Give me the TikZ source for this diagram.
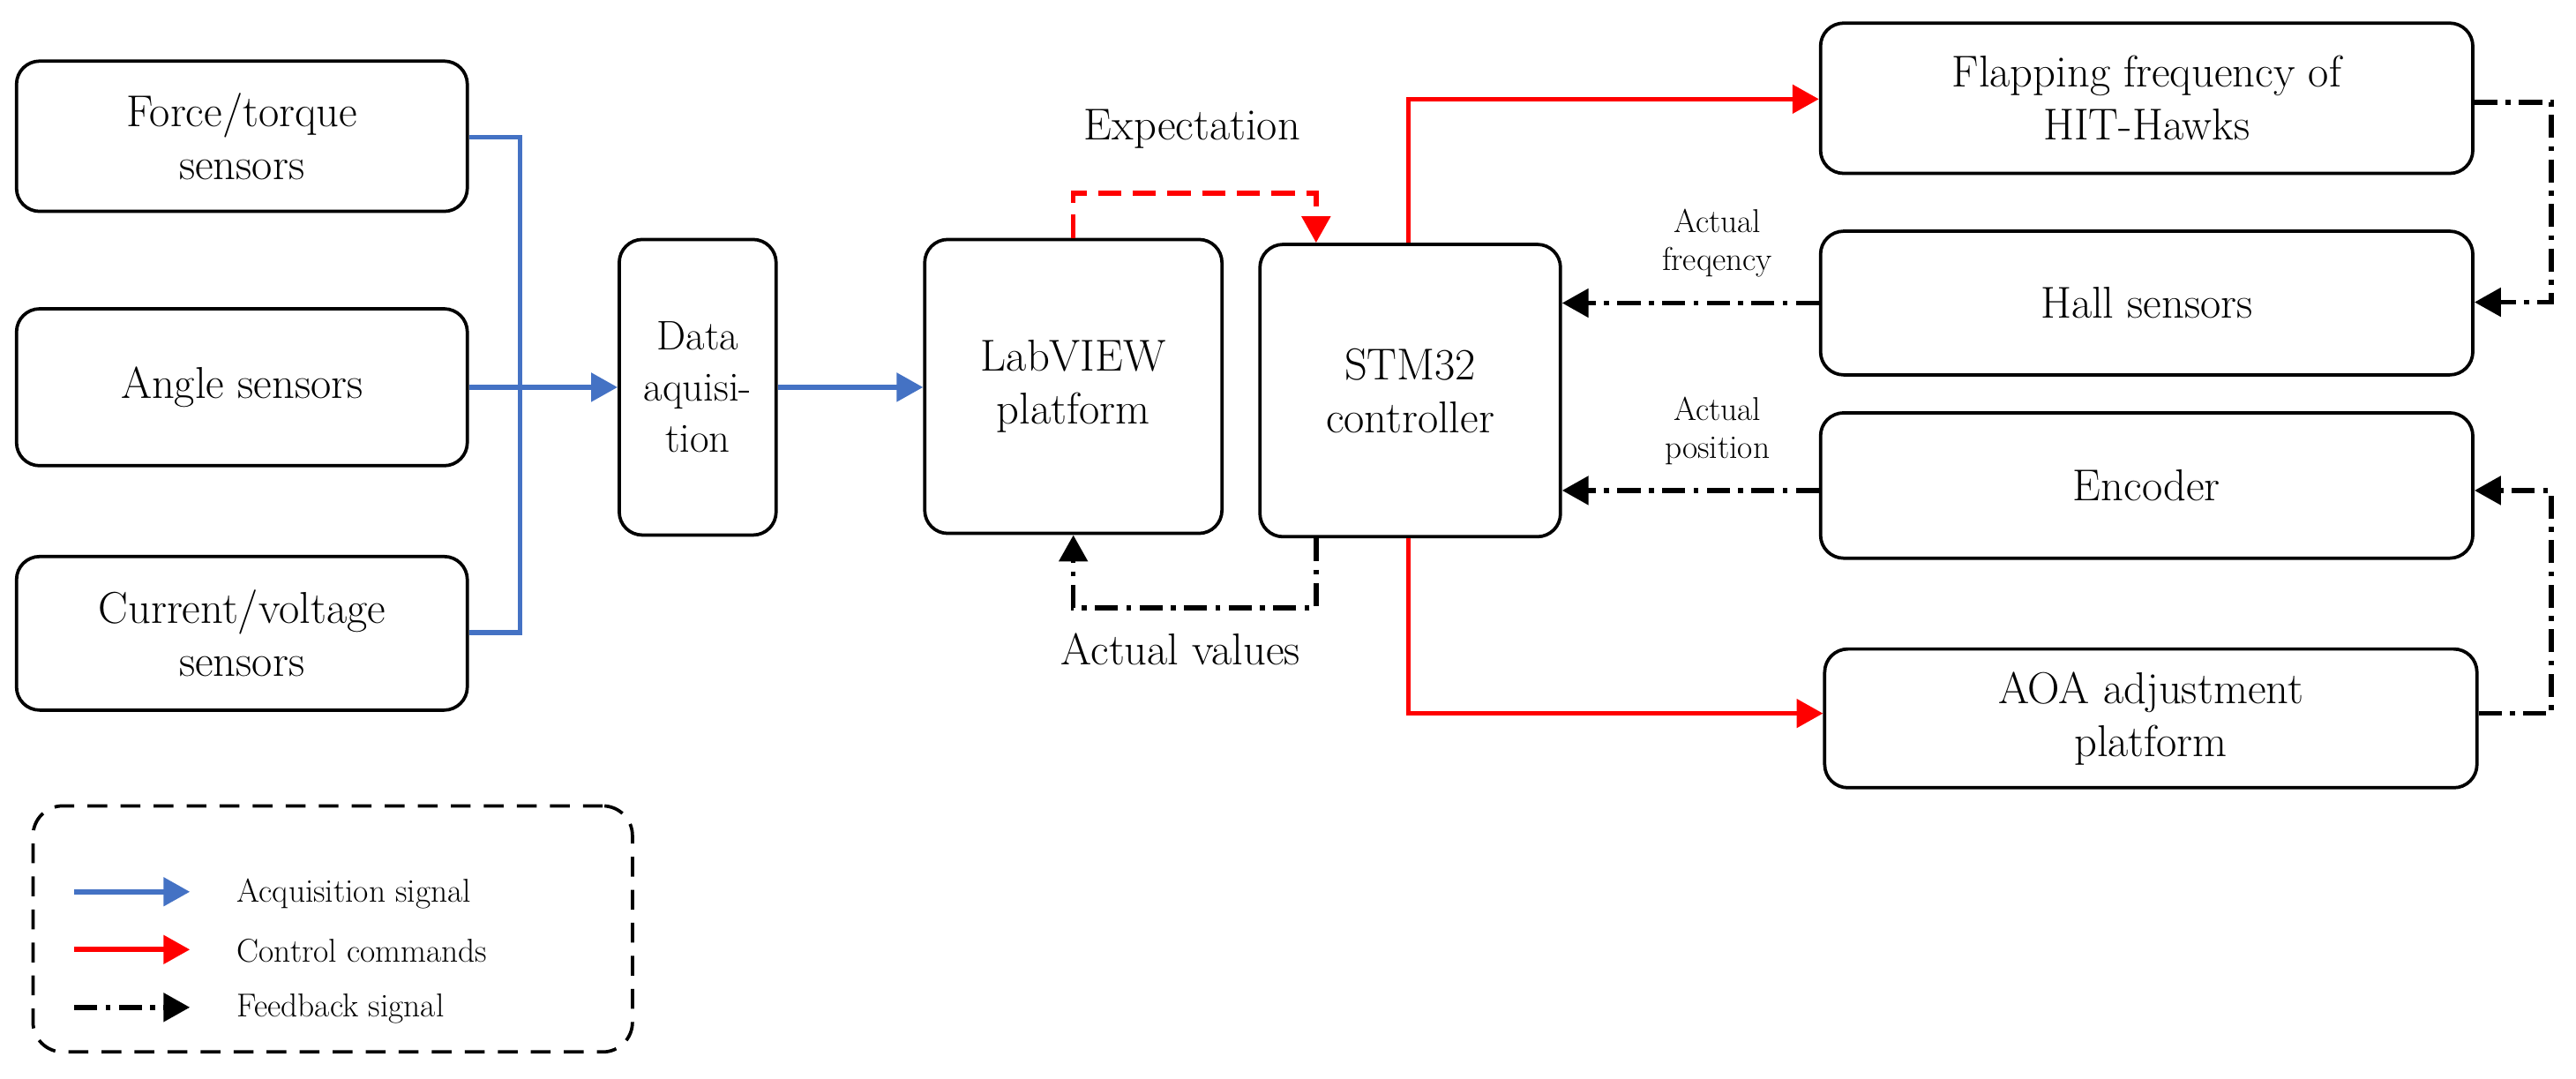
\documentclass[tikz,border=0pt]{standalone}
\usetikzlibrary{arrows.meta}
\begin{document}
\begin{tikzpicture}[x=1pt,y=-1pt,
 box/.style={draw,line width=2pt,rounded corners=14pt,align=center,font=\fontsize{27}{32}\selectfont,inner sep=0pt},
 lab/.style={font=\fontsize{27}{32}\selectfont,align=center},
 slab/.style={font=\fontsize{20}{23}\selectfont,align=center},
 tip/.style={-{Triangle[length=16pt,width=17pt]}},
 blue/.style={draw={rgb,255:red,68;green,114;blue,196},line width=3pt,tip,color={rgb,255:red,68;green,114;blue,196}},
 redl/.style={draw=red,line width=3pt,tip,color=red},
 fb/.style={draw=black,line width=3pt,tip,dash pattern=on 14pt off 5pt on 3pt off 5pt}]
\useasboundingbox (0,0) rectangle (1560,653);
\node[box,minimum width=273pt,minimum height=91pt] (ft) at (146.5,82.5) {Force/torque\\sensors};
\node[box,minimum width=273pt,minimum height=95pt] (ang) at (146.5,234.5) {Angle sensors};
\node[box,minimum width=273pt,minimum height=93pt] (cur) at (146.5,383.5) {Current/voltage\\sensors};
\node[box,minimum width=95pt,minimum height=179pt,font=\fontsize{25}{31}\selectfont] (daq) at (422.5,234.5) {Data\\aquisi-\\tion};
\node[box,minimum width=180pt,minimum height=178pt] (lv) at (650,234) {LabVIEW\\platform};
\node[box,minimum width=182pt,minimum height=177pt] (stm) at (854,236.5) {STM32\\controller};
\node[box,minimum width=395pt,minimum height=91pt] (flap) at (1300,59.5) {Flapping frequency of\\HIT-Hawks};
\node[box,minimum width=395pt,minimum height=87pt] (hall) at (1300,183.5) {Hall sensors};
\node[box,minimum width=395pt,minimum height=88pt] (enc) at (1300,294) {Encoder};
\node[box,minimum width=395pt,minimum height=84pt] (aoa) at (1302.5,435) {AOA adjustment\\platform};
\coordinate (bt) at (315,83); \coordinate (bb) at (315,383);
\draw[blue,-] (ft.east|-bt) -- (bt) -- (bb) -- (cur.east|-bb);
\draw[blue] (ang.east) -- (daq.west);
\draw[blue] (daq.east) -- (lv.west|-daq.east);
% expectation
\coordinate (e1) at (650,117); \coordinate (e2) at (797,117);
\draw[redl,dash pattern=on 14pt off 7pt] (lv.north) -- (e1) -- (e2) -- (e2|-stm.north);
\node[lab] (exp) at (722,78) {Expectation};
% actual values
\coordinate (a1) at (797,368); \coordinate (a2) at (650,368);
\draw[fb] (a1|-stm.south) -- (a1) -- (a2) -- (lv.south);
\node[lab] (av) at (715,393) {Actual values};
% control
\coordinate (c1) at (853,60); \coordinate (c2) at (853,432);
\draw[redl] (c1|-stm.north) -- (c1) -- (flap.west|-c1);
\draw[redl] (c2|-stm.south) -- (c2) -- (aoa.west|-c2);
% feedback
\coordinate (f1) at (1545,62); \coordinate (f2) at (1545,183);
\draw[fb] (flap.east|-f1) -- (f1) -- (f2) -- (hall.east|-f2);
\draw[fb] (hall.west) -- (stm.east|-hall.west);
\coordinate (g1) at (1545,432); \coordinate (g2) at (1545,297);
\draw[fb] (aoa.east|-g1) -- (g1) -- (g2) -- (enc.east|-g2);
\draw[fb] (enc.west|-g2) -- (stm.east|-g2);
\node[slab] (af) at (1040,147) {Actual\\freqency};
\node[slab] (ap) at (1040,261) {Actual\\position};
% legend
\node[draw,line width=2pt,dash pattern=on 12pt off 8pt,rounded corners=18pt,minimum width=363pt,minimum height=149pt] (leg) at (201.5,562.5) {};
\coordinate (l1) at (45,540); \coordinate (l2) at (45,575); \coordinate (l3) at (45,610);
\coordinate (m1) at (115,540); \coordinate (m2) at (115,575); \coordinate (m3) at (115,610);
\draw[blue] (l1) -- (m1);
\draw[redl] (l2) -- (m2);
\draw[fb] (l3) -- (m3);
\node[slab,anchor=west] (t1) at (140,541) {Acquisition signal};
\node[slab,anchor=west] (t2) at (140,576) {Control commands};
\node[slab,anchor=west] (t3) at (140,611) {Feedback signal};
\end{tikzpicture}
\end{document}
